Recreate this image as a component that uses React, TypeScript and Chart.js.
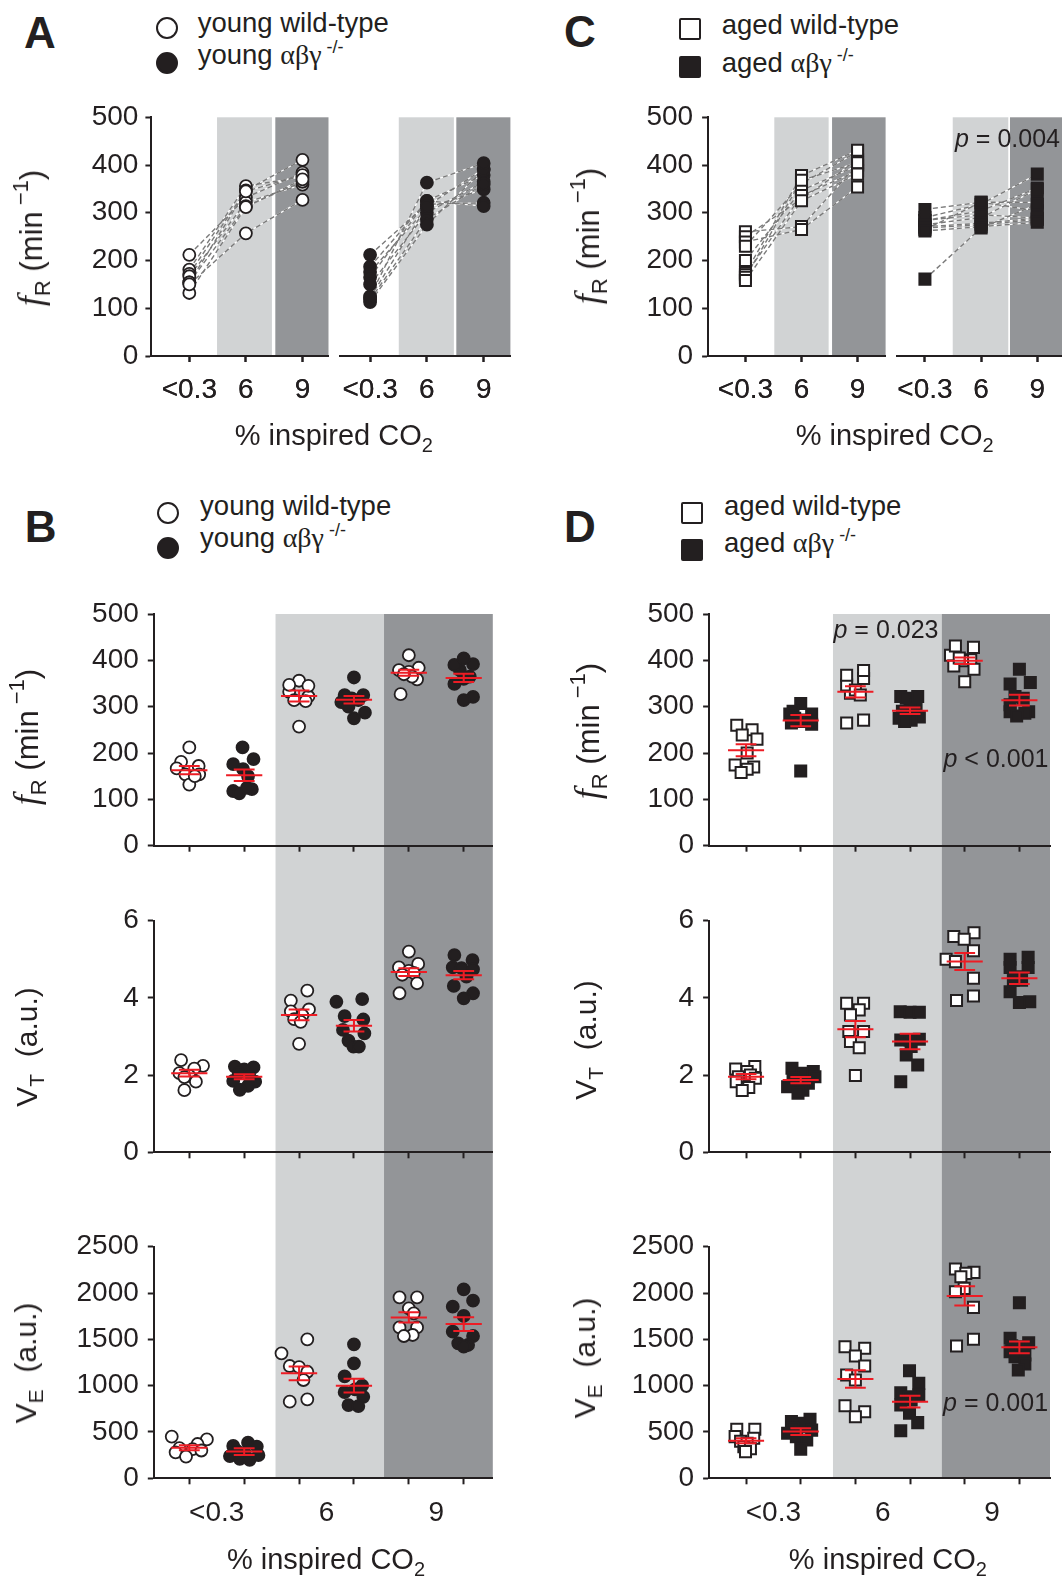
import React, { useEffect, useRef } from 'react';
import { Chart, registerables } from 'chart.js';
Chart.register(...registerables);

const SANS = '"Liberation Sans", Arial, Helvetica, sans-serif';
const SERIF = '"Liberation Serif", "Times New Roman", serif';
const INK = '#231f20';
const LIGHT_BAND = '#d1d3d4';
const DARK_BAND = '#939598';
const RED = '#ed1c24';
const LINK_GRAY = '#7a7a7a';
const TICK_SIZE = 28;

// ---------- categories ----------
const co2Labels = ['<0.3', '6', '9'];

// ---------- young mice, f_R (min^-1), per mouse: [<0.3, 6 %, 9 %] ----------
const youngWT_fR = [
  [212, 181, 172, 167, 154, 154, 132, 150],
  [332, 356, 347, 322, 345, 314, 312, 257],
  [384, 375, 411, 359, 379, 365, 370, 327],
];
const youngWT_fR_dx = [
  [0, -0.15, 0.17, -0.23, -0.07, 0.18, 0, 0.1],
  [-0.18, 0, -0.18, 0.17, 0.17, -0.09, 0.12, 0],
  [0.18, 0, 0, 0.15, -0.18, 0.06, -0.09, -0.15],
];
const youngKO_fR = [
  [212, 187, 176, 165, 150, 122, 118, 113, 125],
  [318, 325, 310, 325, 300, 314, 287, 275, 363],
  [321, 314, 349, 379, 365, 392, 360, 390, 404],
];
const youngKO_fR_dx = [
  [-0.03, 0.17, -0.2, -0.02, 0.07, 0.14, -0.2, -0.09, 0.05],
  [-0.04, -0.17, -0.23, 0.17, -0.1, 0.08, 0.2, 0, 0],
  [0.17, 0, -0.17, -0.07, 0.11, 0.17, 0, -0.17, 0],
];
const youngFR_mean = [163, 152, 323, 315, 373, 362];
const youngFR_sem = [9, 12.6, 12, 8, 6.5, 9];

// ---------- young mice, V_T (a.u.) ----------
const youngWT_VT = [
  [2.39, 2.24, 2.17, 2.05, 1.98, 1.95, 1.83, 1.61],
  [4.19, 3.93, 3.7, 3.65, 3.55, 3.45, 3.38, 2.81],
  [5.2, 4.88, 4.79, 4.7, 4.65, 4.6, 4.38, 4.12],
];
const youngWT_VT_dx = [
  [-0.15, 0.25, 0.09, -0.18, 0, -0.09, 0.12, -0.09],
  [0.15, -0.15, 0.18, -0.15, 0.06, -0.09, 0.03, 0],
  [0, 0.17, -0.18, 0, 0.09, -0.12, 0.15, -0.17],
];
const youngKO_VT = [
  [2.22, 2.2, 2.15, 2.05, 1.95, 1.85, 1.83, 1.72, 1.62],
  [3.9, 3.97, 3.53, 3.44, 3.17, 3.08, 2.89, 2.74, 2.74],
  [5.11, 4.98, 4.79, 4.77, 4.74, 4.55, 4.31, 4.12, 3.99],
];
const youngKO_VT_dx = [
  [-0.17, 0.17, 0, -0.1, 0.1, -0.2, 0.2, 0.07, -0.08],
  [-0.32, 0.15, -0.17, 0.17, -0.2, 0.19, -0.1, -0.01, 0.09],
  [-0.17, 0.16, -0.2, -0.04, 0.17, 0.05, -0.18, 0.17, 0],
];
const youngVT_mean = [2.05, 1.96, 3.56, 3.28, 4.67, 4.59];
const youngVT_sem = [0.086, 0.065, 0.14, 0.15, 0.1, 0.11];

// ---------- young mice, V_E (a.u.) ----------
const youngWT_VE = [
  [450, 420, 370, 325, 315, 300, 280, 234],
  [1500, 1349, 1212, 1200, 1150, 1061, 853, 827],
  [1953, 1953, 1835, 1781, 1629, 1629, 1547, 1536],
];
const youngWT_VE_dx = [
  [-0.32, 0.32, 0.15, -0.18, 0.06, 0.22, -0.25, -0.06],
  [0.15, -0.32, -0.17, 0, 0.15, 0.08, 0.15, -0.17],
  [-0.17, 0.15, 0, 0.09, -0.17, 0.15, 0.07, -0.09],
];
const youngKO_VE = [
  [385, 350, 342, 300, 275, 250, 240, 210, 200],
  [1446, 1241, 1100, 1000, 960, 930, 880, 790, 780],
  [2040, 1917, 1853, 1752, 1583, 1536, 1457, 1439, 1421],
];
const youngKO_VE_dx = [
  [0.07, -0.2, 0.23, -0.14, 0.01, 0.26, -0.26, -0.08, 0.1],
  [0, 0, -0.17, 0.15, 0.02, -0.17, 0.17, -0.1, 0.08],
  [0, 0.17, -0.2, 0, -0.2, 0.17, -0.1, 0.08, 0],
];
const youngVE_mean = [331, 288, 1133, 1000, 1737, 1665];
const youngVE_sem = [27, 36, 75, 74, 56, 74];

// ---------- aged mice, f_R (min^-1), per mouse ----------
const agedWT_fR = [
  [260, 250, 239, 230, 200, 174, 170, 165, 158],
  [271, 329, 265, 361, 347, 378, 336, 368, 325],
  [401, 411, 354, 428, 399, 431, 388, 405, 381],
];
const agedWT_fR_dx = [
  [-0.17, 0.11, -0.07, 0.2, 0.02, -0.2, 0.14, 0.02, -0.09],
  [0.15, -0.09, -0.16, 0.15, -0.16, 0.15, 0, -0.16, 0.09],
  [0.11, -0.26, 0, 0.16, -0.04, -0.17, -0.2, -0.1, 0.17],
];
const agedKO_fR = [
  [307, 290, 284, 284, 275, 271, 268, 265, 262, 161],
  [322, 318, 304, 296, 290, 278, 275, 322, 271, 268],
  [304, 381, 352, 289, 349, 289, 286, 322, 280, 318],
];
const agedKO_fR_dx = [
  [0, -0.14, -0.2, 0.2, -0.11, 0.1, 0, -0.17, 0.2, 0],
  [-0.17, -0.07, 0.11, 0, -0.14, 0.17, -0.2, 0.14, 0.02, -0.1],
  [-0.17, 0, 0.2, 0.17, -0.17, -0.17, 0.1, -0.08, -0.05, 0.07],
];
const agedFR_mean = [206, 270, 332, 291, 399, 314];
const agedFR_sem = [13, 12, 12, 7, 7, 11.5];

// ---------- aged mice, V_T (a.u.) ----------
const agedWT_VT = [
  [2.22, 2.16, 2.09, 2.0, 1.96, 1.92, 1.83, 1.68, 1.6],
  [3.86, 3.86, 3.69, 3.56, 3.13, 3.13, 2.87, 2.71, 1.99],
  [5.69, 5.59, 5.52, 5.22, 5.0, 4.94, 4.51, 4.05, 3.93],
];
const agedWT_VT_dx = [
  [0.16, -0.19, 0.02, 0.08, -0.14, 0.17, -0.18, 0.05, -0.07],
  [-0.16, 0.15, 0.07, -0.09, -0.12, 0.15, -0.09, 0.07, 0],
  [0.17, -0.2, -0.01, 0.16, -0.34, -0.17, 0.16, 0.16, -0.15],
];
const agedKO_VT = [
  [2.18, 2.09, 2.05, 1.96, 1.92, 1.83, 1.79, 1.7, 1.61, 1.53],
  [3.64, 3.63, 3.63, 2.93, 2.91, 2.91, 2.74, 2.52, 2.26, 1.83],
  [5.05, 5.0, 4.79, 4.79, 4.55, 4.46, 4.46, 4.16, 3.9, 3.88],
];
const agedKO_VT_dx = [
  [-0.16, 0.23, 0.02, 0.26, -0.14, -0.08, 0.14, -0.24, 0.04, -0.05],
  [-0.18, 0, 0.17, 0.17, -0.17, 0, 0.02, -0.07, 0.14, -0.17],
  [0.16, -0.17, -0.17, 0.16, -0.02, 0.04, -0.11, -0.17, 0.19, 0],
];
const agedVT_mean = [1.96, 1.87, 3.19, 2.87, 4.94, 4.51];
const agedVT_sem = [0.07, 0.08, 0.21, 0.2, 0.22, 0.15];

// ---------- aged mice, V_E (a.u.) ----------
const agedWT_VE = [
  [529, 529, 450, 432, 400, 378, 342, 320, 288],
  [1421, 1403, 1320, 1212, 1115, 1061, 784, 719, 665],
  [2259, 2223, 2212, 2176, 2050, 2014, 1845, 1500, 1428],
];
const agedWT_VE_dx = [
  [-0.17, 0.16, -0.2, 0.14, -0.1, 0.02, -0.04, 0.08, -0.01],
  [-0.19, 0.17, 0, 0.17, -0.16, 0, -0.19, 0.17, 0],
  [-0.17, 0.17, 0.02, -0.07, -0.01, -0.17, 0.16, 0.16, -0.15],
];
const agedKO_VE = [
  [637, 612, 594, 558, 540, 520, 486, 450, 414, 313],
  [1162, 1025, 924, 899, 881, 845, 791, 701, 601, 514],
  [1896, 1511, 1464, 1430, 1421, 1367, 1331, 1313, 1234, 1169],
];
const agedKO_VE_dx = [
  [0.17, -0.17, -0.05, 0.07, -0.14, 0.2, -0.24, -0.08, 0.11, 0],
  [-0.01, 0.16, -0.17, 0.16, -0.01, 0.02, -0.17, -0.01, 0.14, -0.17],
  [0, -0.17, 0.17, -0.14, -0.02, -0.17, 0.1, -0.08, 0.1, -0.02],
];
const agedVE_mean = [406, 504, 1072, 827, 1968, 1414];
const agedVE_sem = [27, 36, 95, 63, 104, 63];

// ---------- y tick settings ----------
const fRTicks = { min: 0, max: 500, step: 100 };
const vtTicks = { min: 0, max: 6, step: 2 };
const veTicks = { min: 0, max: 2500, step: 500 };

// ---------- chart builder ----------
type Band = { from: number; to: number; color: string };
type Spec = {
  W: number; H: number; l: number; t: number; r: number; b: number;
  xMin: number; xMax: number;
  y: { min: number; max: number; step: number };
  showY: boolean; yPad: number;
  tickMarks: number[];
  labels: { v: number; text: string }[];
  labelPad: number;
  bands: Band[];
  bandTop: 'area' | 'canvas';
  bandBottom: 'area' | 'canvas';
  datasets: any[];
  err?: { means: number[]; sems: number[] };
};

const near = (a: number, b: number) => Math.abs(a - b) < 1e-6;

function buildConfig(s: Spec): any {
  const allTicks = [...s.tickMarks, ...s.labels.map((l) => l.v)].sort((a, b) => a - b);
  const plugins: any[] = [
    {
      id: 'bands',
      beforeDraw(chart: any) {
        const { ctx, chartArea } = chart;
        const x = chart.scales.x;
        const top = s.bandTop === 'canvas' ? 0 : chartArea.top;
        const bottom = s.bandBottom === 'canvas' ? chart.height : chartArea.bottom;
        ctx.save();
        s.bands.forEach((bd) => {
          const x0 = x.getPixelForValue(bd.from);
          const x1 = x.getPixelForValue(bd.to);
          ctx.fillStyle = bd.color;
          ctx.fillRect(x0, top, x1 - x0, bottom - top);
        });
        ctx.restore();
      },
    },
  ];
  if (s.err) {
    const { means, sems } = s.err;
    plugins.push({
      id: 'errbars',
      afterDatasetsDraw(chart: any) {
        const { ctx } = chart;
        const x = chart.scales.x;
        const y = chart.scales.y;
        ctx.save();
        ctx.strokeStyle = RED;
        ctx.lineWidth = 2;
        means.forEach((m, g) => {
          const xc = x.getPixelForValue(g);
          const xm0 = x.getPixelForValue(g - 0.33);
          const xm1 = x.getPixelForValue(g + 0.33);
          const xc0 = x.getPixelForValue(g - 0.19);
          const xc1 = x.getPixelForValue(g + 0.19);
          const ym = y.getPixelForValue(m);
          const yt = y.getPixelForValue(m + sems[g]);
          const yb = y.getPixelForValue(m - sems[g]);
          ctx.beginPath();
          ctx.moveTo(xm0, ym); ctx.lineTo(xm1, ym);
          ctx.moveTo(xc, yt); ctx.lineTo(xc, yb);
          ctx.moveTo(xc0, yt); ctx.lineTo(xc1, yt);
          ctx.moveTo(xc0, yb); ctx.lineTo(xc1, yb);
          ctx.stroke();
        });
        ctx.restore();
      },
    });
  }
  return {
    type: 'scatter',
    data: { datasets: s.datasets },
    options: {
      animation: false,
      responsive: false,
      devicePixelRatio: 1,
      events: [],
      layout: {
        autoPadding: false,
        padding: { left: s.showY ? 0 : s.l, top: s.t, right: s.W - s.r, bottom: 0 },
      },
      plugins: { legend: { display: false }, tooltip: { enabled: false }, title: { display: false } },
      scales: {
        x: {
          type: 'linear',
          position: 'bottom',
          min: s.xMin,
          max: s.xMax,
          afterBuildTicks: (sc: any) => {
            sc.ticks = allTicks.map((v) => ({ value: v }));
          },
          afterFit: (sc: any) => {
            sc.height = s.H - s.b;
            sc.paddingLeft = 0; sc.paddingRight = 0; sc.paddingTop = 0; sc.paddingBottom = 0;
          },
          ticks: {
            autoSkip: false, maxRotation: 0, minRotation: 0, padding: s.labelPad,
            color: INK, font: { family: SANS, size: TICK_SIZE },
            callback: (v: number) => {
              const f = s.labels.find((l) => near(l.v, v));
              return f ? f.text : '';
            },
          },
          grid: {
            drawOnChartArea: false, drawTicks: true, tickLength: 6, tickWidth: 2,
            tickColor: (c: any) => (c.tick && s.tickMarks.some((m) => near(m, c.tick.value)) ? INK : 'rgba(0,0,0,0)'),
          },
          border: { display: true, color: INK, width: 2 },
        },
        y: {
          type: 'linear',
          display: s.showY,
          min: s.y.min,
          max: s.y.max,
          ticks: {
            stepSize: s.y.step, padding: s.yPad, color: INK, font: { family: SANS, size: TICK_SIZE },
            callback: (v: number) => String(v),
          },
          afterFit: (sc: any) => {
            if (s.showY) sc.width = s.l;
            sc.paddingLeft = 0; sc.paddingRight = 0; sc.paddingTop = 0; sc.paddingBottom = 0;
          },
          grid: { drawOnChartArea: false, tickLength: 6, tickWidth: 2, tickColor: INK },
          border: { display: true, color: INK, width: 2 },
        },
      },
    },
    plugins,
  };
}

function pointSet(data: { x: number; y: number }[], shape: 'circle' | 'rect', fill: string) {
  return {
    data,
    showLine: false,
    pointStyle: shape,
    pointRadius: shape === 'circle' ? 6 : 7.8,
    pointBorderWidth: shape === 'circle' ? 1.8 : 2,
    pointBackgroundColor: fill,
    pointBorderColor: INK,
    clip: false,
    order: 0,
  };
}

function groupSets(wt: number[][], wtDx: number[][], ko: number[][], koDx: number[][], shape: 'circle' | 'rect') {
  const sets: any[] = [];
  for (let c = 0; c < 3; c++) {
    sets.push(pointSet(wt[c].map((v, i) => ({ x: 2 * c + wtDx[c][i], y: v })), shape, '#ffffff'));
    sets.push(pointSet(ko[c].map((v, i) => ({ x: 2 * c + 1 + koDx[c][i], y: v })), shape, INK));
  }
  return sets;
}

function pairedSets(groups: number[][], shape: 'circle' | 'rect', fill: string) {
  const n = groups[0].length;
  const sets: any[] = [pointSet(groups.flatMap((g, c) => g.map((v) => ({ x: c, y: v }))), shape, fill)];
  for (let i = 0; i < n; i++) {
    const pts = groups.map((g, c) => ({ x: c, y: g[i] }));
    sets.push({ data: pts, showLine: true, pointRadius: 0, borderColor: LINK_GRAY, borderWidth: 1.4, borderDash: [5, 3], tension: 0, clip: false, order: 1 });
    sets.push({ data: pts, showLine: true, pointRadius: 0, borderColor: '#ffffff', borderWidth: 1.2, tension: 0, clip: false, order: 2 });
  }
  return sets;
}

const band = (from: number, to: number, color: string): Band => ({ from, to, color });

// ---------- specs ----------
const topLabels = co2Labels.map((t, i) => ({ v: i, text: t }));
const bottomLabels = co2Labels.map((t, i) => ({ v: 2 * i + 0.5, text: t }));
const six = [0, 1, 2, 3, 4, 5];

const specAL: Spec = {
  W: 334, H: 330, l: 151.4, t: 27.3, r: 328.5, b: 266, xMin: -0.67, xMax: 2.46,
  y: fRTicks, showY: true, yPad: 7, tickMarks: [0, 1, 2], labels: topLabels, labelPad: 11,
  bands: [band(0.49, 1.46, LIGHT_BAND), band(1.52, 2.46, DARK_BAND)], bandTop: 'area', bandBottom: 'area',
  datasets: pairedSets(youngWT_fR, 'circle', '#ffffff'),
};
const specAR: Spec = {
  W: 196, H: 330, l: 5.7, t: 27.3, r: 176.4, b: 266, xMin: -0.535, xMax: 2.47,
  y: fRTicks, showY: false, yPad: 7, tickMarks: [0, 1, 2], labels: topLabels, labelPad: 11,
  bands: [band(0.505, 1.475, LIGHT_BAND), band(1.518, 2.47, DARK_BAND)], bandTop: 'area', bandBottom: 'area',
  datasets: pairedSets(youngKO_fR, 'circle', INK),
};
const specCL: Spec = {
  W: 360, H: 330, l: 178.1, t: 27.3, r: 355.6, b: 266, xMin: -0.666, xMax: 2.5,
  y: fRTicks, showY: true, yPad: 9, tickMarks: [0, 1, 2], labels: topLabels, labelPad: 11,
  bands: [band(0.515, 1.484, LIGHT_BAND), band(1.545, 2.5, DARK_BAND)], bandTop: 'area', bandBottom: 'area',
  datasets: pairedSets(agedWT_fR, 'rect', '#ffffff'),
};
const specCR: Spec = {
  W: 172, H: 330, l: 7.4, t: 27.3, r: 172, b: 266, xMin: -0.49, xMax: 2.44,
  y: fRTicks, showY: false, yPad: 9, tickMarks: [0, 1, 2], labels: topLabels, labelPad: 11,
  bands: [band(0.495, 1.484, LIGHT_BAND), band(1.514, 2.44, DARK_BAND)], bandTop: 'area', bandBottom: 'area',
  datasets: pairedSets(agedKO_fR, 'rect', INK),
};

const bandsB = [band(1.571, 3.548, LIGHT_BAND), band(3.548, 5.53, DARK_BAND)];
const bandsD = [band(1.59, 3.58, LIGHT_BAND), band(3.58, 5.56, DARK_BAND)];

const colB = { W: 530, l: 153.8, r: 492.8, xMin: -0.647, xMax: 5.53, yPad: 9 };
const colD = { W: 532, l: 179.1, r: 520, xMin: -0.676, xMax: 5.56, yPad: 9 };
const rowF = { H: 290, t: 24, b: 255.7 };
const rowT = { H: 320, t: 40.7, b: 272.3 };
const rowE = { H: 377, t: 46.7, b: 278.3 };

const specBF: Spec = {
  ...colB, ...rowF, y: fRTicks, showY: true, tickMarks: six, labels: [], labelPad: 12,
  bands: bandsB, bandTop: 'area', bandBottom: 'canvas',
  datasets: groupSets(youngWT_fR, youngWT_fR_dx, youngKO_fR, youngKO_fR_dx, 'circle'),
  err: { means: youngFR_mean, sems: youngFR_sem },
};
const specBT: Spec = {
  ...colB, ...rowT, y: vtTicks, showY: true, tickMarks: six, labels: [], labelPad: 12,
  bands: bandsB, bandTop: 'canvas', bandBottom: 'canvas',
  datasets: groupSets(youngWT_VT, youngWT_VT_dx, youngKO_VT, youngKO_VT_dx, 'circle'),
  err: { means: youngVT_mean, sems: youngVT_sem },
};
const specBE: Spec = {
  ...colB, ...rowE, y: veTicks, showY: true, tickMarks: six, labels: bottomLabels, labelPad: 12,
  bands: bandsB, bandTop: 'canvas', bandBottom: 'area',
  datasets: groupSets(youngWT_VE, youngWT_VE_dx, youngKO_VE, youngKO_VE_dx, 'circle'),
  err: { means: youngVE_mean, sems: youngVE_sem },
};
const specDF: Spec = {
  ...colD, ...rowF, y: fRTicks, showY: true, tickMarks: six, labels: [], labelPad: 12,
  bands: bandsD, bandTop: 'area', bandBottom: 'canvas',
  datasets: groupSets(agedWT_fR, agedWT_fR_dx, agedKO_fR, agedKO_fR_dx, 'rect'),
  err: { means: agedFR_mean, sems: agedFR_sem },
};
const specDT: Spec = {
  ...colD, ...rowT, y: vtTicks, showY: true, tickMarks: six, labels: [], labelPad: 12,
  bands: bandsD, bandTop: 'canvas', bandBottom: 'canvas',
  datasets: groupSets(agedWT_VT, agedWT_VT_dx, agedKO_VT, agedKO_VT_dx, 'rect'),
  err: { means: agedVT_mean, sems: agedVT_sem },
};
const specDE: Spec = {
  ...colD, ...rowE, y: veTicks, showY: true, tickMarks: six, labels: bottomLabels, labelPad: 12,
  bands: bandsD, bandTop: 'canvas', bandBottom: 'area',
  datasets: groupSets(agedWT_VE, agedWT_VE_dx, agedKO_VE, agedKO_VE_dx, 'rect'),
  err: { means: agedVE_mean, sems: agedVE_sem },
};

// ---------- components ----------
function ChartBox({ x, y, spec }: { x: number; y: number; spec: Spec }) {
  const ref = useRef<HTMLCanvasElement>(null);
  useEffect(() => {
    const chart = new Chart(ref.current as HTMLCanvasElement, buildConfig(spec));
    return () => chart.destroy();
  }, []);
  return (
    <canvas
      ref={ref}
      width={spec.W}
      height={spec.H}
      style={{ position: 'absolute', left: x, top: y, width: spec.W, height: spec.H }}
    />
  );
}

const Sub = ({ children, size }: { children: any; size: number }) => (
  <span style={{ fontSize: size, position: 'relative', top: size * 0.35 }}>{children}</span>
);
const Sup = ({ children, size }: { children: any; size: number }) => (
  <span style={{ fontSize: size, position: 'relative', top: -size * 0.62 }}>{children}</span>
);

function CText({ x, y, size, children, weight, rotate }: { x: number; y: number; size: number; children: any; weight?: number; rotate?: boolean }) {
  return (
    <div
      style={{
        position: 'absolute', left: x, top: y, fontSize: size, lineHeight: 1, whiteSpace: 'nowrap',
        fontWeight: weight ?? 400, fontFamily: SANS, color: INK,
        transform: rotate ? 'translate(-50%,-50%) rotate(-90deg)' : 'translate(-50%,-50%)',
      }}
    >
      {children}
    </div>
  );
}

function LText({ x, baseline, size, children }: { x: number; baseline: number; size: number; children: any }) {
  return (
    <div style={{ position: 'absolute', left: x, top: baseline - 0.8465 * size, fontSize: size, lineHeight: 1, whiteSpace: 'nowrap', fontFamily: SANS, color: INK }}>
      {children}
    </div>
  );
}

function Marker({ x, y, shape, filled }: { x: number; y: number; shape: 'circle' | 'rect'; filled: boolean }) {
  const s = 22;
  return (
    <div
      style={{
        position: 'absolute', left: x - s / 2, top: y - s / 2, width: s, height: s, boxSizing: 'border-box',
        border: `2.5px solid ${INK}`, background: filled ? INK : '#fff', borderRadius: shape === 'circle' ? '50%' : 2,
      }}
    />
  );
}

const KO = () => (
  <>
    <span style={{ fontFamily: SERIF, fontSize: 28 }}>αβγ</span>
    <Sup size={18}>{' -/-'}</Sup>
  </>
);

const FRTitle = () => (
  <>
    <span style={{ fontFamily: SERIF, fontStyle: 'italic', fontSize: 36 }}>f</span>
    <Sub size={22}>R</Sub>
    {' (min'}
    <Sup size={22}>{' \u22121'}</Sup>
    {')'}
  </>
);
const VTitle = ({ s }: { s: string }) => (
  <>
    V<Sub size={21}>{s}</Sub>
    {'\u00a0\u00a0(a.u.)'}
  </>
);
const CO2Title = () => (
  <>
    % inspired CO<Sub size={20}>2</Sub>
  </>
);
const PText = ({ op, val }: { op: string; val: string }) => (
  <>
    <i>p</i>
    {` ${op} ${val}`}
  </>
);

export default function App() {
  useEffect(() => {
    document.body.style.margin = '0';
  }, []);
  const TS = 30; // title size
  const FS = 31; // f_R title size
  const to = 0.0935; // em offset between visual centre and em centre
  const LS = 27.5; // legend size
  return (
    <div style={{ position: 'absolute', left: 0, top: 0, width: 1062, height: 1577, overflow: 'hidden', background: '#fff' }}>
      {/* charts */}
      <ChartBox x={0} y={90} spec={specAL} />
      <ChartBox x={334} y={90} spec={specAR} />
      <ChartBox x={530} y={90} spec={specCL} />
      <ChartBox x={890} y={90} spec={specCR} />
      <ChartBox x={0} y={590} spec={specBF} />
      <ChartBox x={0} y={880} spec={specBT} />
      <ChartBox x={0} y={1200} spec={specBE} />
      <ChartBox x={530} y={590} spec={specDF} />
      <ChartBox x={530} y={880} spec={specDT} />
      <ChartBox x={530} y={1200} spec={specDE} />

      {/* panel letters */}
      <CText x={40} y={32.5} size={44} weight={700}>A</CText>
      <CText x={580} y={31.7} size={44} weight={700}>C</CText>
      <CText x={40.6} y={526.7} size={44} weight={700}>B</CText>
      <CText x={580} y={526.7} size={44} weight={700}>D</CText>

      {/* legends */}
      <Marker x={167.3} y={28.3} shape="circle" filled={false} />
      <Marker x={167.3} y={63.3} shape="circle" filled={true} />
      <LText x={197.7} baseline={32.5} size={LS}>young wild-type</LText>
      <LText x={197.7} baseline={64} size={LS}>young <KO /></LText>

      <Marker x={690.1} y={29.2} shape="rect" filled={false} />
      <Marker x={690.1} y={67.2} shape="rect" filled={true} />
      <LText x={721.7} baseline={34} size={LS}>aged wild-type</LText>
      <LText x={721.7} baseline={72} size={LS}>aged <KO /></LText>

      <Marker x={168} y={513.3} shape="circle" filled={false} />
      <Marker x={168} y={548.3} shape="circle" filled={true} />
      <LText x={200.1} baseline={515} size={LS}>young wild-type</LText>
      <LText x={200.1} baseline={547} size={LS}>young <KO /></LText>

      <Marker x={692.3} y={512.5} shape="rect" filled={false} />
      <Marker x={692.3} y={549.5} shape="rect" filled={true} />
      <LText x={724} baseline={515} size={LS}>aged wild-type</LText>
      <LText x={724} baseline={552} size={LS}>aged <KO /></LText>

      {/* y titles */}
      <CText x={33 - to * FS} y={237.5} size={FS} rotate><FRTitle /></CText>
      <CText x={589.4 - to * FS} y={235.8} size={FS} rotate><FRTitle /></CText>
      <CText x={28.7 - to * FS} y={736.7} size={FS} rotate><FRTitle /></CText>
      <CText x={29.6 - to * TS} y={1046.7} size={TS} rotate><VTitle s="T" /></CText>
      <CText x={29 - to * TS} y={1362.5} size={TS} rotate><VTitle s="E" /></CText>
      <CText x={590.2 - to * FS} y={730.8} size={FS} rotate><FRTitle /></CText>
      <CText x={588.5 - to * TS} y={1040} size={TS} rotate><VTitle s="T" /></CText>
      <CText x={587.7 - to * TS} y={1357.5} size={TS} rotate><VTitle s="E" /></CText>

      {/* x titles */}
      <CText x={333.8} y={438 - to * 29} size={29}><CO2Title /></CText>
      <CText x={894.7} y={438 - to * 29} size={29}><CO2Title /></CText>
      <CText x={326} y={1561.7 - to * 29} size={29}><CO2Title /></CText>
      <CText x={887.9} y={1561.7 - to * 29} size={29}><CO2Title /></CText>

      {/* p values */}
      <CText x={1007.5} y={140 - to * 25} size={25}><PText op="=" val="0.004" /></CText>
      <CText x={886} y={631.7 - to * 25} size={25}><PText op="=" val="0.023" /></CText>
      <CText x={996} y={760 - to * 25} size={25}><PText op="<" val="0.001" /></CText>
      <CText x={995.6} y={1404 - to * 25} size={25}><PText op="=" val="0.001" /></CText>
    </div>
  );
}
